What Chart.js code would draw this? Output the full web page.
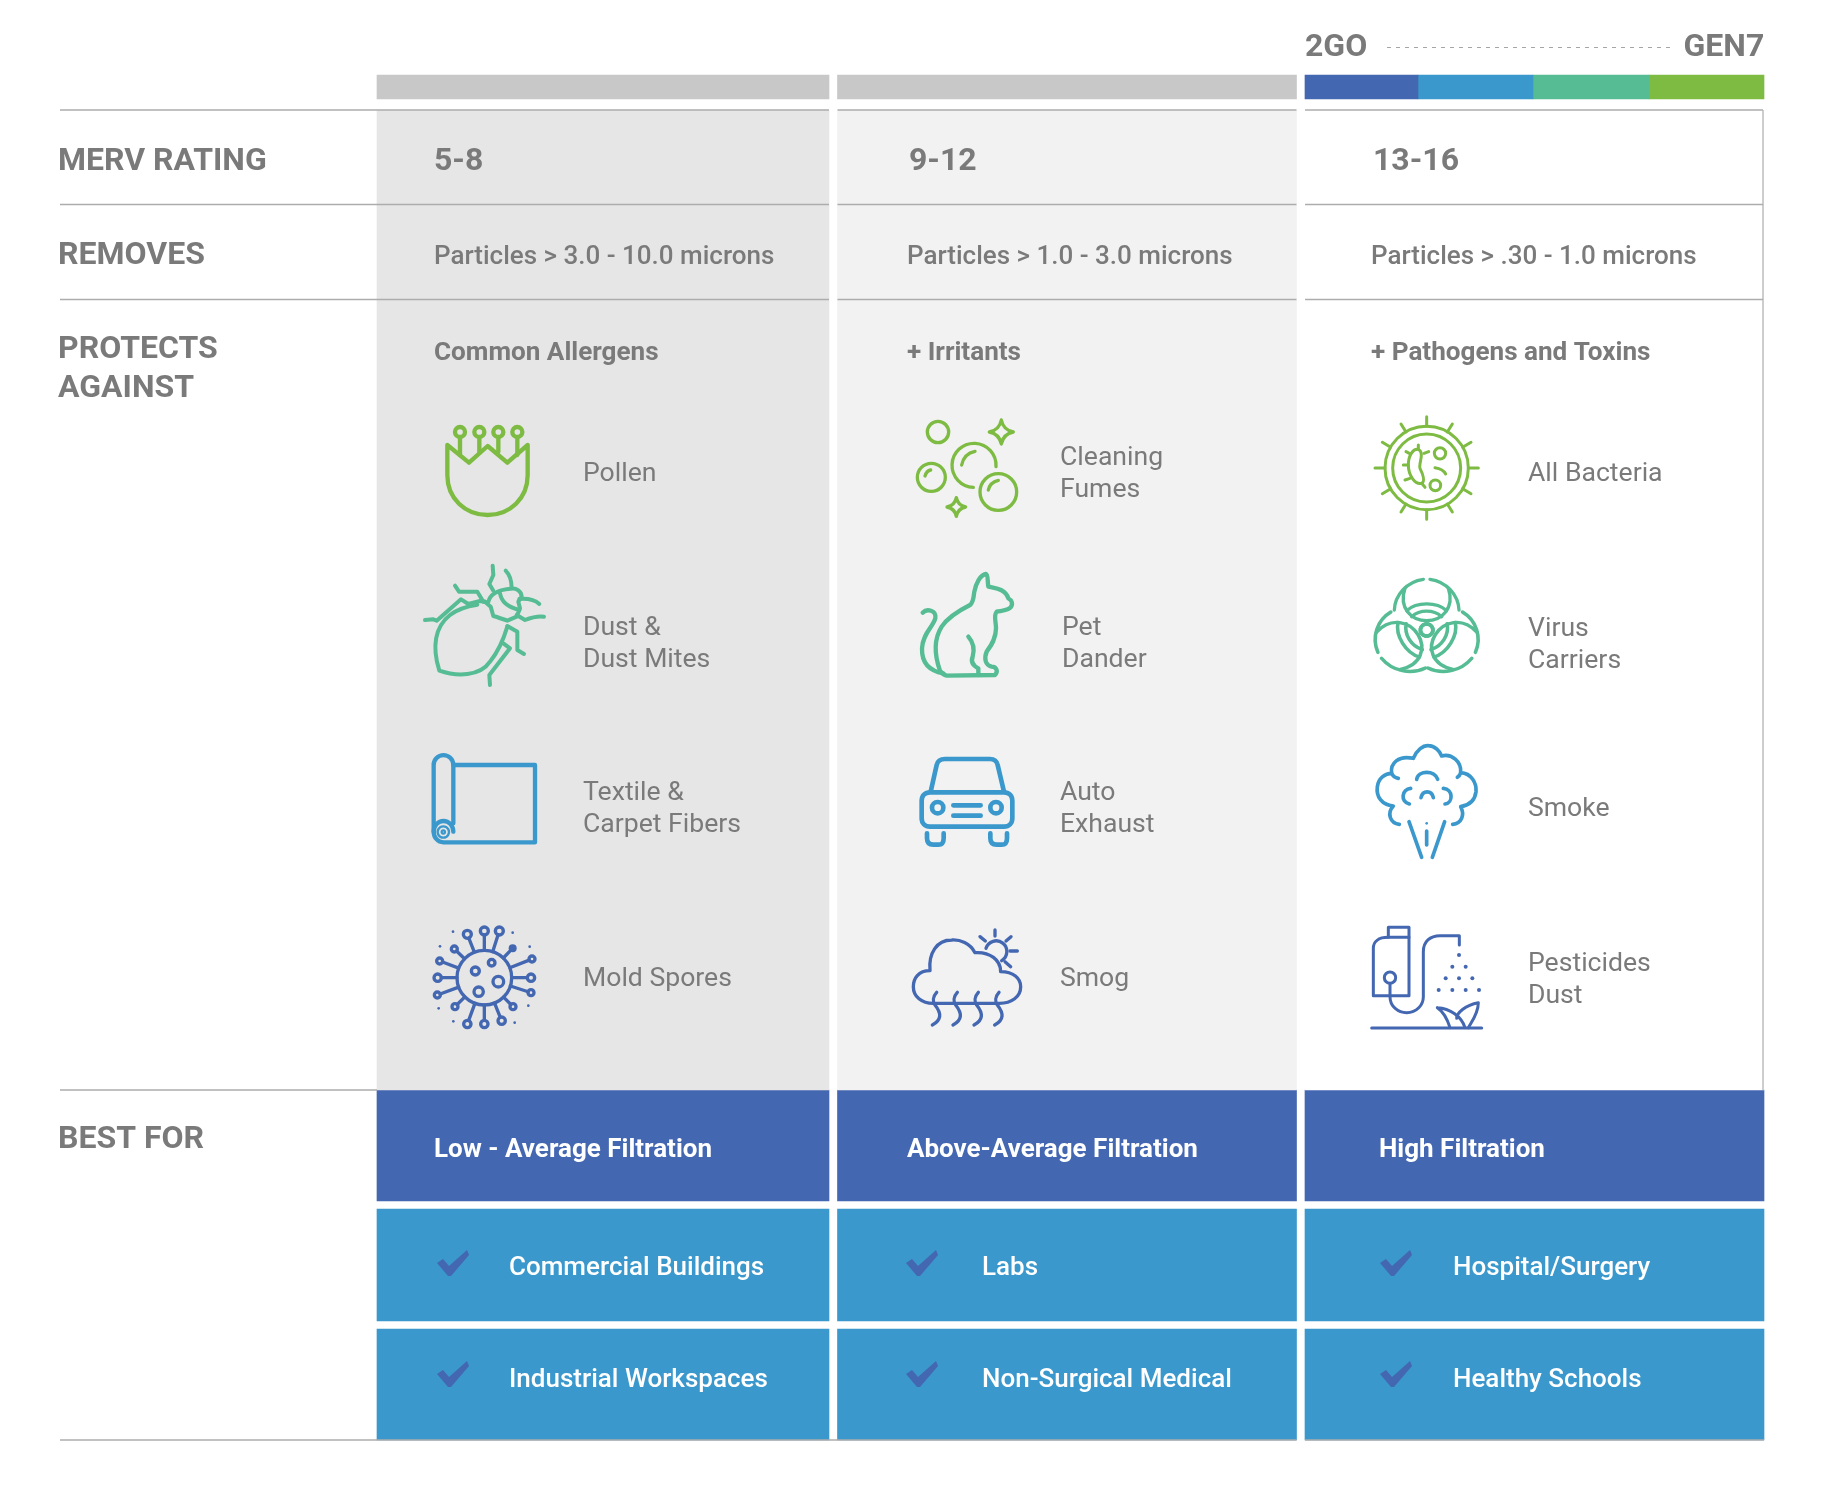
<!DOCTYPE html>
<html>
<head>
<meta charset="utf-8">
<title>MERV rating</title>
<script src="https://cdn.jsdelivr.net/npm/chart.js@4/dist/chart.umd.min.js"></script>
<style>
  html, body { margin: 0; padding: 0; background: #fff; }
  canvas { display: block; }
</style>
</head>
<body>
<canvas id="chart" width="1836" height="1500"></canvas>
<script>
// table content
const rowLabels = [["MERV RATING"], ["REMOVES"], ["PROTECTS", "AGAINST"], ["BEST FOR"]];
const mervRatings = ["5-8", "9-12", "13-16"];
const removes = ["Particles > 3.0 - 10.0 microns", "Particles > 1.0 - 3.0 microns", "Particles > .30 - 1.0 microns"];
const protectHeads = ["Common Allergens", "+ Irritants", "+ Pathogens and Toxins"];
const protectsLow = [["Pollen"], ["Dust &", "Dust Mites"], ["Textile &", "Carpet Fibers"], ["Mold Spores"]];
const protectsMid = [["Cleaning", "Fumes"], ["Pet", "Dander"], ["Auto", "Exhaust"], ["Smog"]];
const protectsHigh = [["All Bacteria"], ["Virus", "Carriers"], ["Smoke"], ["Pesticides", "Dust"]];
const filtration = ["Low - Average Filtration", "Above-Average Filtration", "High Filtration"];
const bestForFirst = ["Commercial Buildings", "Labs", "Hospital/Surgery"];
const bestForSecond = ["Industrial Workspaces", "Non-Surgical Medical", "Healthy Schools"];
const rangeEnds = ["2GO", "GEN7"];

// layout, in scale units (the scales map 1:1 on the page)
const colEdges = [[377, 829], [837.5, 1296.5], [1305, 1764]];
const stripeEdges = [1305, 1418, 1533, 1649, 1764];
const GRAY = "#7a7a7a", NAVY = "#4467b1", BLUE = "#3b98cc", TEAL = "#55bc94", GREEN = "#7dbb42", RULE = "#adadad";

function cell(x0, x1, y0, y1, color) {
    return {
        type: "bar",
        data: [{ x: (x0 + x1) / 2, y: [y0, y1] }],
        barThickness: x1 - x0,
        backgroundColor: color,
        grouped: false,
        order: 2
    };
}

function rule(x0, x1, y0, y1, color, width, dash) {
    return {
        type: "line",
        data: [{ x: x0, y: y0 }, { x: x1, y: y1 }],
        borderColor: color,
        borderWidth: width,
        borderDash: dash || [],
        pointRadius: 0,
        order: 1
    };
}

const datasets = [];
const bandFills = ["#e6e6e6", "#f2f2f2", "#ffffff"];
colEdges.forEach((c, i) => {
    if (i < 2) datasets.push(cell(c[0], c[1], 75, 99, "#c8c8c8"));
    datasets.push(cell(c[0], c[1], 110, 1090, bandFills[i]));
    datasets.push(cell(c[0], c[1], 1090, 1201, NAVY));
    datasets.push(cell(c[0], c[1], 1209, 1321, BLUE));
    datasets.push(cell(c[0], c[1], 1329, 1440, BLUE));
});
[NAVY, BLUE, TEAL, GREEN].forEach((color, i) => {
    datasets.push(cell(stripeEdges[i], stripeEdges[i + 1], 75, 99, color));
});

[110, 204.5, 299.5].forEach(y => {
    datasets.push(rule(60, 829, y, y, RULE, 1.5));
    datasets.push(rule(837.5, 1296.5, y, y, RULE, 1.5));
    datasets.push(rule(1305, 1763, y, y, RULE, 1.5));
});
datasets.push(rule(60, 377, 1090, 1090, RULE, 1.5));
datasets.push(rule(60, 1296.5, 1440, 1440, RULE, 1.5));
datasets.push(rule(1305, 1764, 1440, 1440, RULE, 1.5));
datasets.push(rule(1763, 1763, 110, 1090, "#bdbdbd", 1.5));
datasets.push(rule(1387, 1670, 47.5, 47.5, "#a5a5a5", 1, [4, 5]));

// icons are traced in a 3x local space
const icons = {
    pollen: {
        at: [400, 400], color: GREEN, lw: 13,
        paths: [
            "M142 135 L207 188 L263 138 L322 188 L383 135 V225 C383 295 330 345 263 345 C195 345 142 295 142 225 Z",
            "M180 112 V165 M238 112 V155 M295 112 V155 M352 112 V165"
        ],
        rings: [[180, 96, 15], [238, 96, 15], [295, 96, 15], [352, 96, 15]]
    },
    bug: {
        at: [400, 400], color: TEAL, lw: 12,
        paths: [
            "M232 614 C205 618 175 625 150 645 C105 680 95 740 118 812 C170 830 240 830 270 785 C295 755 310 720 322 680",
            "M255 605 L272 620 L280 648 C295 652 310 658 322 662 L350 650 L360 625 L355 605 L365 590 C365 575 350 562 330 566 C290 570 270 585 265 605",
            "M300 580 C305 605 320 620 358 630",
            "M278 497 L280 525 L268 552 L280 572",
            "M317 512 C330 525 335 545 335 565",
            "M165 557 L177 575 L232 575 L250 605",
            "M75 660 L100 658 L110 662 L183 598 L205 612 L240 603 L255 605",
            "M358 597 C385 595 405 600 418 612",
            "M350 645 L375 660 C395 652 415 648 432 650",
            "M322 678 L352 695 L352 750 L372 762",
            "M310 730 L330 745 L268 825 L270 855"
        ]
    },
    carpet: {
        at: [400, 730], color: BLUE, lw: 13,
        paths: [
            "M101 305 V105 A29.5 29.5 0 0 1 160 105 V280",
            "M160 105 H405 V337 H130 A29.5 32 0 0 1 101 305 A29.5 32 0 0 1 160 305"
        ],
        thin: ["M130 289 A17 17 0 1 1 129.9 289 Z", "M130 301 A5 5 0 1 1 129.9 301 Z"]
    },
    spores: {
        at: [400, 730], color: NAVY, lw: 10,
        hub: [253, 743, 82],
        spokes: [[202, 613, 12], [253, 603, 12], [298, 603, 12], [396, 687, 9], [393, 743, 11], [393, 788, 9], [339, 830, 9],
            [305, 872, 11], [253, 882, 11], [202, 882, 11], [165, 830, 9], [112, 795, 9], [113, 743, 11], [119, 693, 9], [163, 657, 9]],
        solidSpoke: [338, 655, 12],
        rings: [[253, 743, 82], [226, 723, 12], [275, 698, 10], [295, 755, 16], [236, 785, 14]],
        dots: [[159, 605, 4], [338, 608, 4], [120, 649, 4], [389, 650, 4], [116, 835, 4], [385, 827, 4], [160, 874, 4], [344, 878, 4]]
    },
    bubbles: {
        at: [880, 400], color: GREEN, lw: 10,
        rings: [[174, 96, 32], [154, 232, 42], [355, 276, 55]],
        paths: [
            "M135 228 C138 218 143 212 152 210",
            "M325 270 C328 255 338 245 355 241",
            "M348 200 A66 66 0 1 0 280 262",
            "M245 195 C250 170 265 158 285 154",
            "M364 60 C368 80 380 92 400 96 C380 100 368 112 364 132 C360 112 348 100 328 96 C348 92 360 80 364 60 Z",
            "M229 293 C232 308 242 318 257 321 C242 324 232 334 229 349 C226 334 216 324 201 321 C216 318 226 308 229 293 Z"
        ]
    },
    cat: {
        at: [880, 400], color: TEAL, lw: 13,
        paths: [
            "M180 812 C165 770 160 720 185 680 C205 650 240 630 270 615 C282 605 280 590 283 575 C288 550 300 525 318 522 C325 525 322 545 325 560 C345 565 375 565 385 595 C395 600 400 612 392 622 C385 632 365 632 350 635 C340 645 348 665 348 685 C348 715 335 735 320 755 C312 775 315 795 335 800 C350 800 355 815 345 825 L200 827 C190 825 185 820 180 812 Z",
            "M128 638 C140 625 170 630 166 655 C160 680 128 700 126 745 C125 785 145 812 190 820",
            "M265 710 C278 725 285 745 278 770 C270 790 285 800 295 805 L295 825"
        ]
    },
    car: {
        at: [880, 730], color: BLUE, lw: 14,
        rings: [[173, 233, 17], [348, 233, 17]],
        paths: [
            "M152 185 L170 105 C173 92 182 87 195 87 H330 C343 87 350 92 353 105 L372 185",
            "M150 187 H372 C387 187 397 197 397 212 V265 C397 280 387 290 372 290 H150 C135 290 125 280 125 265 V212 C125 197 135 187 150 187 Z",
            "M220 226 H302 M220 257 H302",
            "M141 310 V325 C141 340 150 344 160 344 H175 C185 344 191 340 191 325 V310",
            "M331 310 V325 C331 340 340 344 350 344 H365 C375 344 381 340 381 325 V310"
        ]
    },
    smog: {
        at: [880, 730], color: NAVY, lw: 10,
        paths: [
            "M160 820 H358 C395 820 422 800 422 770 C422 745 400 725 362 725 C362 690 330 665 285 668 C270 640 240 628 215 630 C170 630 145 670 150 722 C115 722 100 745 100 770 C100 800 125 820 160 820 Z",
            "M318 655 A32 32 0 1 1 365 692",
            "M345 600 V618 M393 620 L378 633 M390 663 H412 M375 695 L392 710 M300 620 L316 633",
            "M170 787 C158 800 158 815 165 825 C185 850 185 870 157 885",
            "M232 787 C220 800 220 815 227 825 C247 850 247 870 219 885",
            "M295 787 C283 800 283 815 290 825 C310 850 310 870 282 885",
            "M357 787 C345 800 345 815 352 825 C372 850 372 870 344 885"
        ]
    },
    bacteria: {
        at: [1350, 400], color: GREEN, lw: 9,
        rings: [[230, 204, 125], [230, 204, 102], [270, 160, 17], [256, 256, 16]],
        paths: [
            "M230 79 V50 M230 329 V358 M105 204 H75 M355 204 H385",
            "M168 96 L153 72 M292 96 L307 72 M122 142 L97 127 M338 142 L363 127",
            "M122 266 L97 281 M338 266 L363 281 M168 312 L153 336 M292 312 L307 336",
            "M205 148 C190 145 175 165 175 195 C175 225 195 255 215 250 C225 245 220 225 210 205 C205 190 225 160 205 148 Z",
            "M205 148 V135 M222 160 L236 155 M178 160 L168 155 M175 195 H160 M180 235 L165 240 M215 250 L225 262",
            "M255 203 C270 205 282 212 287 222"
        ]
    },
    bio: {
        at: [1350, 400], color: TEAL, lw: 10,
        rings: [[230, 690, 18]],
        turn: [230, 690],
        paths: [
            "M240 538 C290 545 325 585 327 630",
            "M220 538 C170 545 135 585 133 630",
            "M165 565 C145 625 185 662 230 662 C275 662 315 625 295 565",
            "M170 632 C200 605 260 605 290 632",
            "M185 650 C210 628 250 628 275 650"
        ]
    },
    smoke: {
        at: [1350, 730], color: BLUE, lw: 11,
        paths: [
            "M148 283 C120 280 110 250 130 228 C95 225 78 200 82 170 C85 145 105 130 125 130 C120 100 145 75 190 85 C200 60 220 45 235 47 C255 47 270 65 275 78 C305 70 335 95 332 128 C365 130 380 160 378 185 C375 210 360 225 332 230 C345 255 335 280 308 283",
            "M125 130 C128 138 135 143 145 145 M332 128 C330 135 325 140 322 142",
            "M200 148 C205 120 255 120 263 148",
            "M182 175 C155 178 150 215 178 222",
            "M280 175 C310 178 310 218 285 222",
            "M213 203 C218 180 245 180 250 203",
            "M177 275 L215 382 M284 275 L247 382 M230 303 V345"
        ],
        dots: [[230, 280, 4]]
    },
    pesticide: {
        at: [1350, 730], color: NAVY, lw: 9,
        rings: [[120, 743, 17]],
        paths: [
            "M70 797 V655 C70 635 85 622 115 622 H177 V797 Z",
            "M115 622 V592 H177 V622",
            "M120 760 V800 C120 830 145 848 170 848 C200 848 220 825 220 800 V665 C220 635 240 617 270 617 H328 V645",
            "M65 894 H395",
            "M262 833 C300 835 335 860 345 893 M300 893 C290 860 280 845 262 833",
            "M385 818 C345 825 320 850 320 865 M385 818 C385 850 365 875 355 893"
        ],
        dots: [[327, 675, 6], [307, 710, 6], [347, 710, 6], [287, 745, 6], [327, 745, 6], [367, 745, 6],
            [266, 780, 6], [307, 780, 6], [347, 780, 6], [387, 780, 6]]
    }
};

function strokeShape(ctx, icon) {
    ctx.lineWidth = icon.lw;
    (icon.paths || []).forEach(d => ctx.stroke(new Path2D(d)));
    (icon.rings || []).forEach(r => {
        ctx.beginPath();
        ctx.arc(r[0], r[1], r[2], 0, Math.PI * 2);
        ctx.stroke();
    });
}

function drawIcon(ctx, icon, xs, ys) {
    ctx.save();
    ctx.translate(xs.getPixelForValue(icon.at[0]), ys.getPixelForValue(icon.at[1]));
    ctx.scale(1 / 3, 1 / 3);
    ctx.strokeStyle = icon.color;
    ctx.fillStyle = icon.color;
    ctx.lineCap = "round";
    ctx.lineJoin = "round";

    if (icon.turn) {
        [0, 120, 240].forEach(deg => {
            ctx.save();
            ctx.translate(icon.turn[0], icon.turn[1]);
            if (deg) ctx.scale(1.07, 1);
            ctx.rotate(deg * Math.PI / 180);
            ctx.translate(-icon.turn[0], -icon.turn[1]);
            strokeShape(ctx, icon);
            ctx.restore();
        });
    } else {
        strokeShape(ctx, icon);
    }

    if (icon.thin) {
        ctx.lineWidth = 7;
        icon.thin.forEach(d => ctx.stroke(new Path2D(d)));
    }

    if (icon.spokes) {
        const hub = icon.hub;
        icon.spokes.concat([icon.solidSpoke]).forEach(s => {
            const a = Math.atan2(s[1] - hub[1], s[0] - hub[0]);
            const len = Math.hypot(s[0] - hub[0], s[1] - hub[1]);
            ctx.beginPath();
            ctx.moveTo(hub[0] + Math.cos(a) * hub[2], hub[1] + Math.sin(a) * hub[2]);
            ctx.lineTo(hub[0] + Math.cos(a) * (len - s[2]), hub[1] + Math.sin(a) * (len - s[2]));
            ctx.stroke();
            ctx.beginPath();
            ctx.arc(s[0], s[1], s[2], 0, Math.PI * 2);
            if (s === icon.solidSpoke) ctx.fill(); else ctx.stroke();
        });
    }

    (icon.dots || []).forEach(d => {
        ctx.beginPath();
        ctx.arc(d[0], d[1], d[2], 0, Math.PI * 2);
        ctx.fill();
    });
    ctx.restore();
}

const checkXs = [437, 906, 1380];
const checkTops = [1250, 1361];

function drawCheck(ctx, x, y) {
    ctx.beginPath();
    ctx.moveTo(x, y + 13);
    ctx.lineTo(x + 6, y + 9);
    ctx.lineTo(x + 12, y + 16);
    ctx.lineTo(x + 30, y);
    ctx.lineTo(x + 32, y + 5);
    ctx.lineTo(x + 14, y + 26);
    ctx.lineTo(x + 11, y + 26);
    ctx.closePath();
    ctx.fillStyle = NAVY;
    ctx.fill();
}

const FONT = "Roboto, sans-serif";
const textX = [434, 907, 1371];
const ratingX = [434, 909, 1373];
const filtrationX = [434, 907, 1379];
const bestForX = [509, 982, 1453];
const itemX = [[583, 583, 583, 583], [1060, 1062, 1060, 1060], [1528, 1528, 1528, 1528]];
const itemY = [[481, 635, 800, 986], [465, 635, 800, 986], [481, 636, 816, 971]];
const labelY = [[170], [264], [358, 397], [1148]];

const tablePlugin = {
    id: "table",
    afterDatasetsDraw(chart) {
        const ctx = chart.ctx;
        const xs = chart.scales.x, ys = chart.scales.y;

        function put(str, x, y, font, color) {
            ctx.font = font + " " + FONT;
            ctx.fillStyle = color;
            ctx.fillText(str, xs.getPixelForValue(x), ys.getPixelForValue(y));
        }

        ctx.save();
        ctx.textBaseline = "alphabetic";
        ctx.textAlign = "left";

        put(rangeEnds[0], 1305, 56, "700 32px", GRAY);
        put(rangeEnds[1], 1683.5, 56, "700 32px", GRAY);

        rowLabels.forEach((lines, r) => {
            lines.forEach((line, l) => put(line, 58, labelY[r][l], "700 32px", GRAY));
        });

        [protectsLow, protectsMid, protectsHigh].forEach((items, c) => {
            put(mervRatings[c], ratingX[c], 170, "700 32px", GRAY);
            put(removes[c], textX[c], 264, "500 26px", GRAY);
            put(protectHeads[c], textX[c], 360, "700 26.1px", GRAY);
            items.forEach((lines, i) => {
                lines.forEach((line, l) => put(line, itemX[c][i], itemY[c][i] + l * 32, "400 26.6px", GRAY));
            });
            put(filtration[c], filtrationX[c], 1157, "700 26px", "#ffffff");
            put(bestForFirst[c], bestForX[c], 1275, "500 26px", "#ffffff");
            put(bestForSecond[c], bestForX[c], 1387, "500 26px", "#ffffff");
            checkTops.forEach(y => drawCheck(ctx, xs.getPixelForValue(checkXs[c]), ys.getPixelForValue(y)));
        });
        ctx.restore();

        Object.values(icons).forEach(icon => drawIcon(ctx, icon, xs, ys));
    }
};

window.addEventListener("load", function () {
    new Chart(document.getElementById("chart"), {
        type: "bar",
        data: { datasets: datasets },
        plugins: [tablePlugin],
        options: {
            responsive: false,
            animation: false,
            events: [],
            layout: { padding: 0 },
            plugins: { legend: { display: false }, tooltip: { enabled: false } },
            scales: {
                x: { type: "linear", min: 0, max: 1836, offset: false, display: false },
                y: { type: "linear", min: 0, max: 1500, reverse: true, display: false }
            }
        }
    });
});
</script>
</body>
</html>
